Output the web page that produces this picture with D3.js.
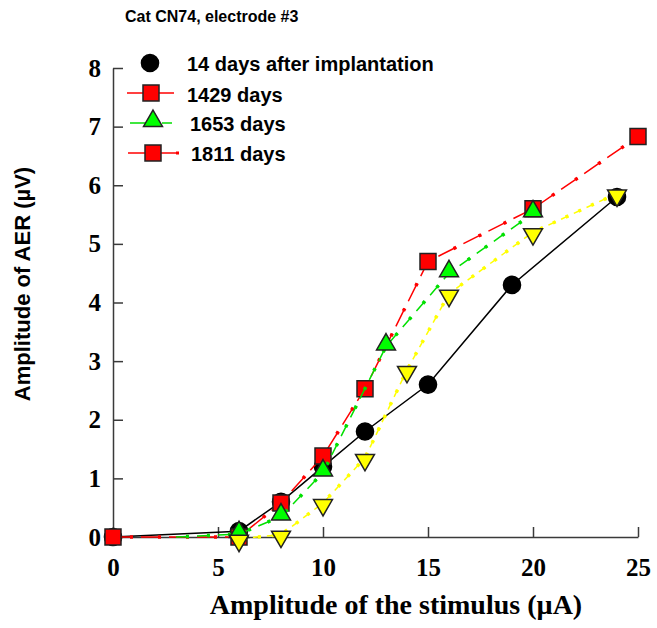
<!DOCTYPE html>
<html>
<head>
<meta charset="utf-8">
<script src="https://cdn.jsdelivr.net/npm/d3@7"></script>
<style>
  body { margin: 0; background: #fff; }
  svg { display: block; }
</style>
</head>
<body>
<svg id="chart" width="657" height="628"></svg>
<script>
const TITLE = 'Cat CN74, electrode #3'
const X_LABEL = 'Amplitude of the stimulus (\u00b5A)'
const Y_LABEL = 'Amplitude of AER (\u00b5V)'
const X_TICKS = [0, 5, 10, 15, 20, 25]
const Y_TICKS = [0, 1, 2, 3, 4, 5, 6, 7, 8]

// [stimulus, amplitude]
const day14 = [[0, 0], [6, 0.1], [8, 0.6], [10, 1.2], [12, 1.8], [15, 2.6], [19, 4.3], [24, 5.8]]
const day1811 = [[0, 0], [6, 0], [8, 0.58], [10, 1.38], [12, 2.53], [15, 4.7], [20, 5.6], [25, 6.83]]
const day1653 = [[3, 0], [6, 0.05], [8, 0.35], [10, 1.1], [13, 3.25], [16, 4.5], [20, 5.52]]
const day1429 = [[6, -0.03], [8, 0.04], [10, 0.58], [12, 1.35], [14, 2.85], [16, 4.15], [20, 5.2], [24, 5.86]]

const LEGEND = ['14 days after implantation', '1429 days', '1653 days', '1811 days']

const $svg = d3.select('#chart')

const xScale = d3.scaleLinear().domain([0, 25]).range([113, 638])
const yScale = d3.scaleLinear().domain([0, 8]).range([537, 68])

const AXIS_COLOR = '#3a3a3a'
const SERIF = '"Liberation Serif", "Times New Roman", serif'
const SANS = '"Liberation Sans", Arial, sans-serif'

// axes
const $xAxis = $svg.append('g')
  .attr('transform', `translate(0, ${yScale(0)})`)
  .call(d3.axisBottom(xScale).tickValues(X_TICKS).tickSizeInner(-10).tickSizeOuter(0).tickFormat(d3.format('d')))
const $yAxis = $svg.append('g')
  .attr('transform', `translate(${xScale(0)}, 0)`)
  .call(d3.axisLeft(yScale).tickValues(Y_TICKS).tickSizeInner(-10).tickSizeOuter(0).tickFormat(d3.format('d')))

$svg.selectAll('.domain, .tick line')
  .attr('stroke', AXIS_COLOR)
  .attr('stroke-width', 1.5)

$xAxis.selectAll('.tick text')
  .attr('dy', null)
  .attr('y', 39)
  .attr('fill', '#000')
  .style('font', `bold 25px ${SERIF}`)
$yAxis.selectAll('.tick text')
  .attr('dy', null)
  .attr('x', -12)
  .attr('y', 8)
  .attr('fill', '#000')
  .style('font', `bold 25px ${SERIF}`)

// labels
$svg.append('text')
  .text(TITLE)
  .attr('x', 125)
  .attr('y', 22)
  .style('font', `bold 16px ${SANS}`)

$svg.append('text')
  .text(X_LABEL)
  .attr('x', 396)
  .attr('y', 614)
  .attr('text-anchor', 'middle')
  .style('font', `bold 28px ${SERIF}`)

$svg.append('text')
  .text(Y_LABEL)
  .attr('transform', 'translate(30, 284) rotate(-90)')
  .attr('text-anchor', 'middle')
  .style('font', `bold 22px ${SANS}`)

// series styles
const SERIES = [
  { data: day14, color: '#000', marker: 'circle', fill: '#000', dash: null, dot: null, from: 0 },
  { data: day1811, color: '#ff0000', marker: 'square', fill: '#ff0000', dash: '20,8', dot: '3,25', dotOff: -17, from: 0 },
  { data: day1653, color: '#00e000', marker: 'tri-up', fill: '#00ff00', dash: '13,8', dot: '3,18', dotOff: -10, from: 1 },
  { data: day1429, color: '#ffff00', marker: 'tri-down', fill: '#ffff00', dash: '8,6', dot: '3,11', dotOff: -5, from: 0 }
]

const lineGen = d3.line()
  .x(d => xScale(d[0]))
  .y(d => yScale(d[1]))

const symbolPath = {
  'circle': d3.symbol(d3.symbolCircle, 230)(),
  'square': d3.symbol(d3.symbolSquare, 256)(),
  'tri-up': d3.symbol(d3.symbolTriangle, 155)()
}

function drawMarker($g, type, fill, x, y) {
  const rot = type === 'tri-down' ? 180 : 0
  const path = type === 'tri-down' ? symbolPath['tri-up'] : symbolPath[type]
  const dy = type === 'tri-up' ? -2 : type === 'tri-down' ? 2 : 0
  $g.append('path')
    .attr('d', path)
    .attr('transform', `translate(${x}, ${y + dy}) rotate(${rot})`)
    .attr('fill', fill)
    .attr('stroke', type === 'circle' ? '#000' : '#222')
    .attr('stroke-width', 1.5)
}

const $gVis = $svg.append('g').attr('class', 'chart')

SERIES.forEach(s => {
  const $g = $gVis.append('g')
  $g.append('path')
    .datum(s.data)
    .attr('d', lineGen)
    .attr('fill', 'none')
    .attr('stroke', s.color)
    .attr('stroke-width', 1.5)
    .attr('stroke-dasharray', s.dash)
  if (s.dot) {
    $g.append('path')
      .datum(s.data)
      .attr('d', lineGen)
      .attr('fill', 'none')
      .attr('stroke', s.color)
      .attr('stroke-width', 3.5)
      .attr('stroke-dasharray', s.dot)
      .attr('stroke-dashoffset', s.dotOff)
  }
  s.data.slice(s.from).forEach(d => drawMarker($g, s.marker, s.fill, xScale(d[0]), yScale(d[1])))
})

// legend
const LEGEND_ROWS = [
  { marker: 'circle', fill: '#000', line: null, mx: 150, y: 63, tx: 187, ty: 71 },
  { marker: 'square', fill: '#ff0000', line: '#ff0000', dash: null, x0: 127, x1: 174, mx: 151, y: 93, tx: 187, ty: 102 },
  { marker: 'tri-up', fill: '#00ff00', line: '#00e000', dash: '26,6,10', x0: 130, x1: 177, mx: 153, y: 123, tx: 190, ty: 131 },
  { marker: 'square', fill: '#ff0000', line: '#ff0000', dash: null, dot: true, x0: 128, x1: 176, mx: 153, y: 153, tx: 191, ty: 161 }
]

const $legend = $svg.append('g').attr('class', 'legend')
LEGEND_ROWS.forEach((r, i) => {
  if (r.line) {
    $legend.append('line')
      .attr('x1', r.x0).attr('x2', r.x1)
      .attr('y1', r.y).attr('y2', r.y)
      .attr('stroke', r.line)
      .attr('stroke-width', 1.5)
      .attr('stroke-dasharray', r.dash)
    if (r.dot) {
      $legend.append('rect')
        .attr('x', r.x1).attr('y', r.y - 1.5)
        .attr('width', 3).attr('height', 3)
        .attr('fill', r.line)
    }
  }
  drawMarker($legend, r.marker, r.fill, r.mx, r.y)
  $legend.append('text')
    .text(LEGEND[i])
    .attr('x', r.tx)
    .attr('y', r.ty)
    .style('font', `bold 20px ${SANS}`)
})
</script>
</body>
</html>
